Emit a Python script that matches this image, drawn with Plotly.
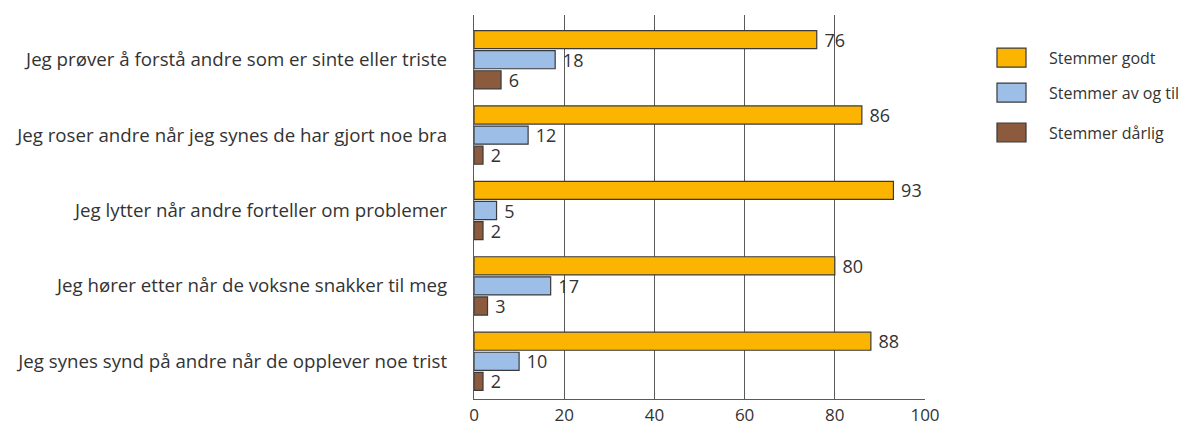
import plotly.graph_objects as go

categories = [
    "Jeg prøver å forstå andre som er sinte eller triste",
    "Jeg roser andre når jeg synes de har gjort noe bra",
    "Jeg lytter når andre forteller om problemer",
    "Jeg hører etter når de voksne snakker til meg",
    "Jeg synes synd på andre når de opplever noe trist",
]
series_names = ["Stemmer godt", "Stemmer av og til", "Stemmer dårlig"]
stemmer_godt = [76, 86, 93, 80, 88]
stemmer_av_og_til = [18, 12, 5, 17, 10]
stemmer_darlig = [6, 2, 2, 3, 2]
x_ticks = [0, 20, 40, 60, 80, 100]

colors = ["#FBB400", "#9DBEE6", "#8C5A3C"]
series_values = [stemmer_godt, stemmer_av_og_til, stemmer_darlig]
FONT = "Open Sans"
TXT = "#333333"

fig = go.Figure()
for name, vals, col in zip(series_names, series_values, colors):
    fig.add_trace(go.Bar(
        y=categories, x=vals, orientation="h", name=name,
        marker=dict(color=col, line=dict(color="#3a3a3a", width=1.2)),
        text=[" " + str(v) for v in vals], textposition="outside",
        constraintext="none",
        textfont=dict(family=FONT, size=18, color=TXT),
        cliponaxis=False, showlegend=False,
    ))

# custom legend (paper coordinates)
legend_y = [0.889, 0.798, 0.694]
for name, col, ly in zip(series_names, colors, legend_y):
    fig.add_shape(type="rect", xref="paper", yref="paper",
                  x0=1.1596, x1=1.224, y0=ly - 0.0247, y1=ly + 0.0247,
                  fillcolor=col, line=dict(color="#3a3a3a", width=1.2))
    fig.add_annotation(xref="paper", yref="paper", x=1.2705, y=ly, text=name,
                       showarrow=False, xanchor="left", yanchor="middle",
                       font=dict(family=FONT, size=16, color=TXT))

fig.update_layout(
    width=1184, height=421,
    margin=dict(l=474, r=259, t=15, b=22),
    paper_bgcolor="white", plot_bgcolor="white",
    barmode="group", bargap=0.2, bargroupgap=0.1,
    font=dict(family=FONT, color=TXT),
    xaxis=dict(range=[0, 100], tickvals=x_ticks, showgrid=True,
               gridcolor="#5a5a5a", gridwidth=1.3, showline=True,
               linecolor="#5a5a5a", linewidth=1.3, zeroline=False,
               ticks="", ticklabelstandoff=0, automargin=False,
               tickfont=dict(family=FONT, size=17, color=TXT)),
    yaxis=dict(range=[4.5, -0.593], showline=True, linecolor="#5a5a5a",
               linewidth=1.3, ticks="", ticklabelstandoff=22,
               automargin=False,
               tickfont=dict(family=FONT, size=18.7, color=TXT)),
)

fig.write_html("out.html")
